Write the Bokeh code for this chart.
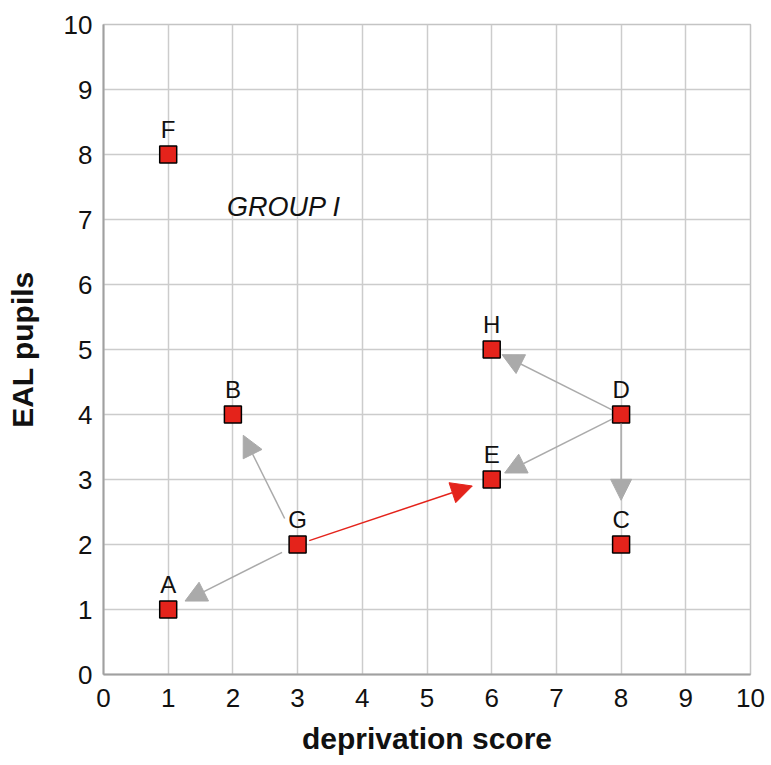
from bokeh.plotting import figure
from bokeh.models import Range1d, ColumnDataSource, Arrow, NormalHead, Label, FixedTicker
from bokeh.core.properties import value
from bokeh.transform import dodge
from bokeh.embed import file_html
from bokeh.resources import INLINE

# data
point_names = ["A", "B", "C", "D", "E", "F", "G", "H"]
deprivation = [1, 2, 8, 8, 6, 1, 3, 6]
eal_pupils = [1, 4, 2, 4, 3, 8, 2, 5]

arrow_from = ["G", "G", "G", "D", "D", "D"]
arrow_to = ["A", "B", "E", "E", "H", "C"]
arrow_start_frac = [0.12, 0.20, 0.06, 0.07, 0.07, 0.07]
arrow_end_frac = [0.87, 0.84, 0.90, 0.90, 0.92, 0.66]
arrow_highlight = [False, False, True, False, False, False]

ticks = list(range(0, 11))
group_label = "GROUP I"
group_pos = (2.79, 7.2)

FONT = "Liberation Sans"
GRAY = "#aaaaaa"
RED = "#e4231b"

p = figure(width=768, height=759, output_backend="svg", toolbar_location=None,
           x_range=Range1d(0, 10), y_range=Range1d(0, 10),
           min_border_left=103, min_border_right=18, min_border_top=24, min_border_bottom=85)

for ax in (p.xaxis[0], p.yaxis[0]):
    ax.ticker = FixedTicker(ticks=ticks)
    ax.major_label_text_font = FONT
    ax.major_label_text_font_size = "26px"
    ax.major_label_text_color = "#111111"
    ax.axis_label_text_font = FONT
    ax.axis_label_text_font_size = "30px"
    ax.axis_label_text_font_style = "bold"
    ax.axis_label_text_color = "#111111"
    ax.major_tick_line_color = None
    ax.minor_tick_line_color = None
    ax.axis_line_color = "#a0a0a0"
    ax.axis_line_width = 2

p.xaxis.axis_label = "deprivation score"
p.yaxis.axis_label = "EAL pupils"
p.xaxis.major_label_standoff = 8
p.yaxis.major_label_standoff = 5
p.xaxis.axis_label_standoff = 12
p.yaxis.axis_label_standoff = 22

p.grid.grid_line_color = "#cccccc"
p.grid.grid_line_width = 1.5
p.outline_line_color = "#c4c4c4"
p.outline_line_width = 1.5
p.background_fill_color = "white"
p.border_fill_color = "white"

# arrows
idx = {n: i for i, n in enumerate(point_names)}
def arrow_source(flag):
    xs, ys, xe, ye = [], [], [], []
    for f, t, s, e, h in zip(arrow_from, arrow_to, arrow_start_frac, arrow_end_frac, arrow_highlight):
        if h != flag:
            continue
        x0, y0 = deprivation[idx[f]], eal_pupils[idx[f]]
        x1, y1 = deprivation[idx[t]], eal_pupils[idx[t]]
        xs.append(x0 + (x1 - x0) * s)
        ys.append(y0 + (y1 - y0) * s)
        xe.append(x0 + (x1 - x0) * e)
        ye.append(y0 + (y1 - y0) * e)
    return ColumnDataSource(dict(xs=xs, ys=ys, xe=xe, ye=ye))

for flag, col in ((False, GRAY), (True, RED)):
    p.add_layout(Arrow(end=NormalHead(size=21, fill_color=col, line_color=col, line_width=1),
                       x_start="xs", y_start="ys", x_end="xe", y_end="ye",
                       line_color=col, line_width=1.5, source=arrow_source(flag)))

src = ColumnDataSource(dict(x=deprivation, y=eal_pupils, name=point_names))
p.scatter("x", "y", source=src, marker="square", size=17, fill_color=RED,
          line_color="black", line_width=1.5)
p.text("x", dodge("y", 0.38, range=p.y_range), text="name", source=src,
       text_align="center", text_baseline="alphabetic",
       text_font=value(FONT), text_font_size="24px", text_color="#111111")

p.add_layout(Label(x=group_pos[0], y=group_pos[1], text=group_label, text_align="center",
                   text_baseline="alphabetic", text_font=FONT, text_font_size="27px",
                   text_font_style="italic", text_color="#111111"))

open("out.html", "w").write(file_html(p, INLINE))
